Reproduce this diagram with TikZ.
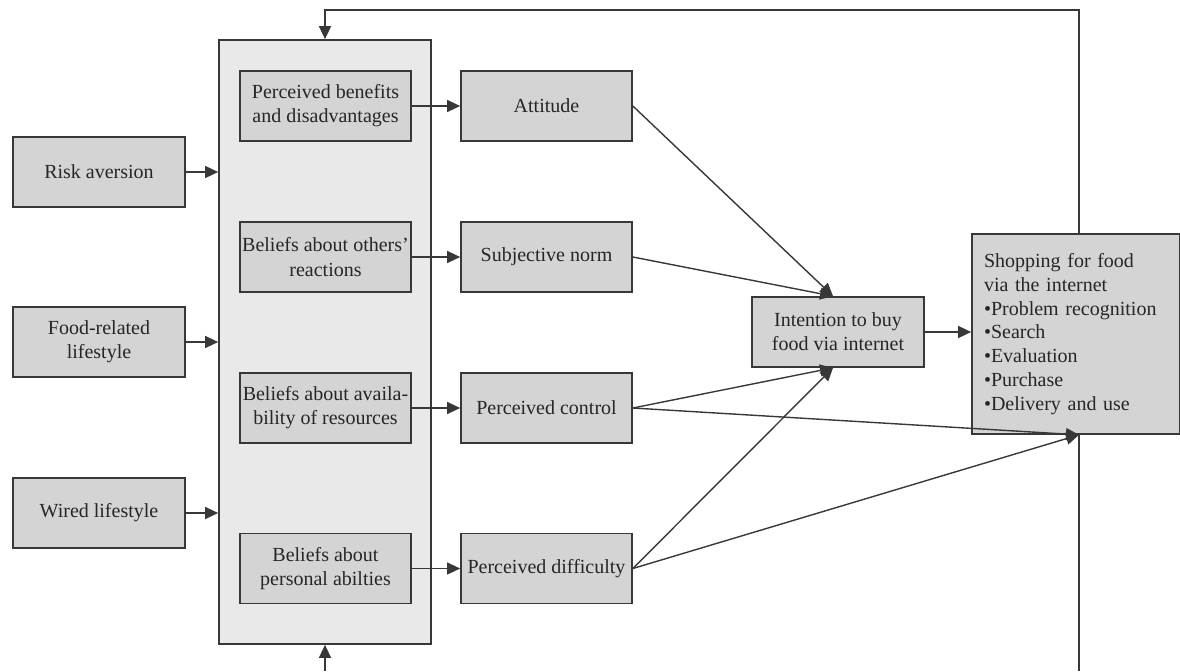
\documentclass[tikz,border=0pt]{standalone}
\usepackage{fontspec}
\setmainfont{Liberation Serif}
\usetikzlibrary{arrows.meta,calc}
\definecolor{boxfill}{HTML}{D4D4D4}
\definecolor{panelfill}{HTML}{E9E9E9}
\definecolor{ink}{HTML}{383838}
\definecolor{txt}{HTML}{262626}

\begin{document}
\begin{tikzpicture}[x=0.5pt,y=-0.5pt,
  box/.style={draw=ink, line width=0.85pt, fill=boxfill, minimum width=86pt,
    minimum height=35pt, inner sep=1pt, align=center, text=txt,
    font=\fontsize{10}{12.1}\selectfont},
  panel/.style={draw=ink, line width=0.85pt, fill=panelfill,
    minimum width=106pt, minimum height=302pt, inner sep=0pt},
  link/.style={draw=ink, line width=0.7pt, -{Triangle[length=6.5pt,width=6pt]}},
  plain/.style={draw=ink, line width=0.7pt}]
\useasboundingbox (0,0) rectangle (1180,671);

% grey panel holding the belief boxes
\node[panel] (big) at (325,342) {};

% external factors
\node[box] (risk)  at (99,172) {Risk aversion};
\node[box] (food)  at (99,342) {Food-related\\lifestyle};
\node[box] (wired) at (99,513) {Wired lifestyle};

% beliefs
\node[box, minimum width=85.5pt] (b1) at (325.5,106)   {Perceived benefits\\and disadvantages};
\node[box, minimum width=85.5pt] (b2) at (325.5,257)   {Beliefs about others’\\reactions};
\node[box, minimum width=85.5pt] (b3) at (325.5,408)   {Beliefs about availa-\\bility of resources};
\node[box, minimum width=85.5pt] (b4) at (325.5,568.5) {Beliefs about\\personal abilties};

% attitude-level constructs
\node[box, minimum width=85.5pt] (att) at (546.5,106)   {Attitude};
\node[box, minimum width=85.5pt] (sub) at (546.5,257)   {Subjective norm};
\node[box, minimum width=85.5pt] (ctl) at (546.5,408)   {Perceived control};
\node[box, minimum width=85.5pt] (dif) at (546.5,568.5) {Perceived difficulty};

% intention and behaviour
\node[box] (int) at (838,332) {Intention to buy\\food via internet};
\node[box, minimum width=103pt, minimum height=100pt, text width=92pt,
  inner xsep=6pt, align=left, font=\fontsize{10}{11.9}\selectfont] (shop) at (1076,334)
  {Shopping for food\\via the internet\\•Problem recognition\\•Search\\•Evaluation\\•Purchase\\•Delivery and use};

% feedback loop corners
\coordinate (topR) at (1079,10);
\coordinate (topL) at (325,10);
\coordinate (botR) at (1079,671);
\coordinate (botL) at (325,671);
\coordinate (shopIn) at (shop.south -| topR);

% factors into the belief panel
\draw[link] (risk)  -- (risk  -| big.west);
\draw[link] (food)  -- (food  -| big.west);
\draw[link] (wired) -- (wired -| big.west);

% beliefs to constructs
\draw[link] (b1) -- (att);
\draw[link] (b2) -- (sub);
\draw[link] (b3) -- (ctl);
\draw[link] (b4) -- (dif);

% constructs to intention
\draw[link] (att.east) -- ([xshift=-2.5pt]int.north);
\draw[link] (sub.east) -- ([xshift=-2.5pt]int.north);
\draw[link] (ctl.east) -- ([xshift=-2.5pt]int.south);
\draw[link] (dif.east) -- ([xshift=-2.5pt]int.south);

% to shopping behaviour
\draw[link] (int) -- (int -| shop.west);
\draw[link] (ctl.east) -- (shopIn);
\draw[link] (dif.east) -- (shopIn);

% feedback
\draw[link] (shop.north -| topR) -- (topR) -- (topL) -- (big.north);
\draw[plain] (shopIn) -- (botR);
\draw[link] (botL) -- (big.south);
\end{tikzpicture}
\end{document}
